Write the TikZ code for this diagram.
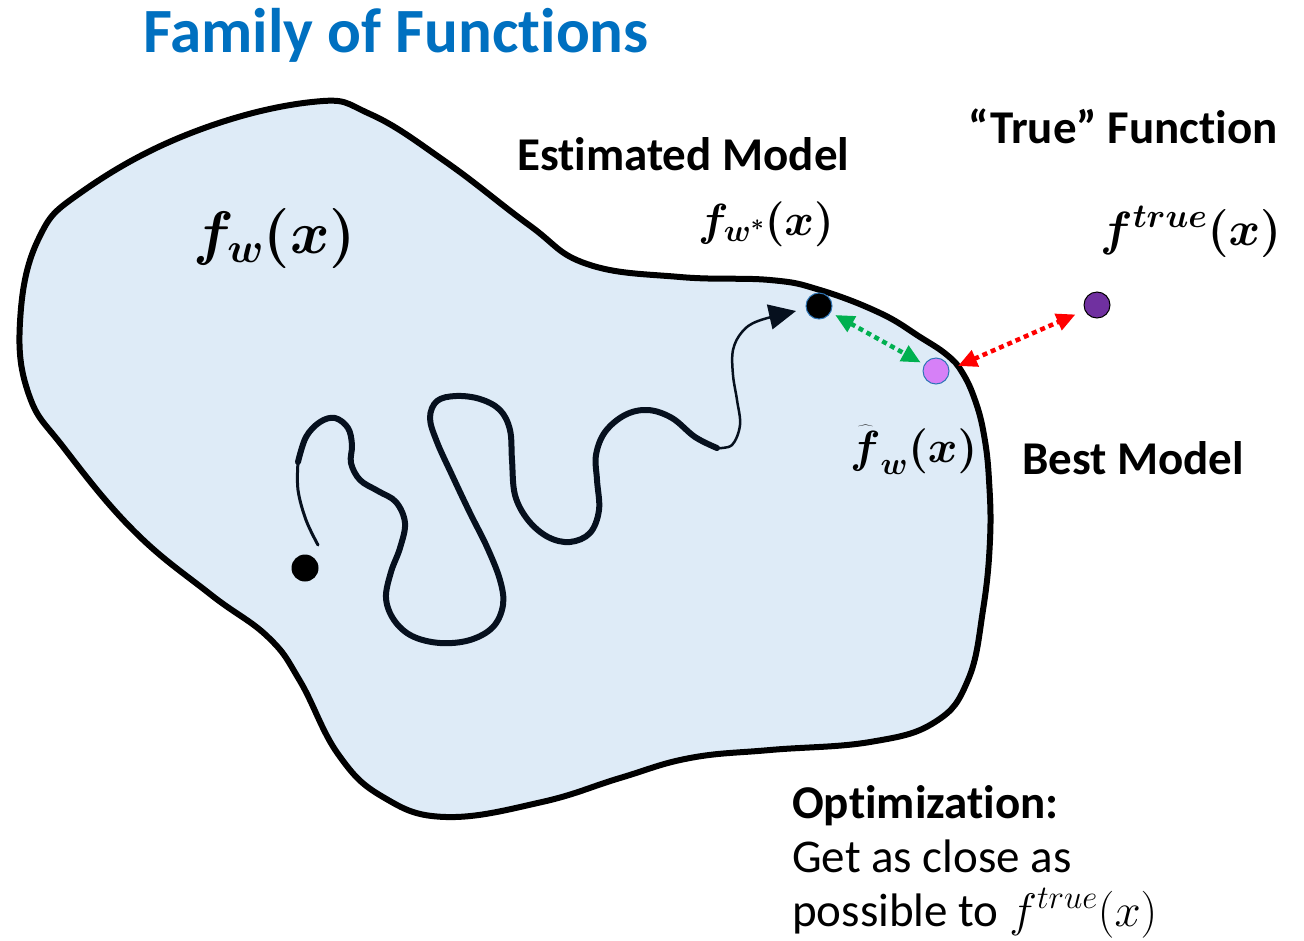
\RequirePackage{fix-cm}
\documentclass[tikz,border=0pt]{standalone}
\usepackage{fontspec}
\setmainfont{Carlito}[Ligatures=NoCommon]
\usepackage{bm}
\usetikzlibrary{arrows.meta}
\definecolor{titleblue}{RGB}{0,112,192}
\definecolor{setfill}{RGB}{222,235,247}
\definecolor{bestviolet}{RGB}{214,128,247}
\definecolor{truepurple}{RGB}{112,48,160}
\definecolor{ringblue}{RGB}{46,117,182}
\definecolor{distgreen}{RGB}{0,176,80}
\definecolor{pathink}{RGB}{6,16,30}

\begin{document}
\begin{tikzpicture}[x=1pt, y=-1pt, >={Triangle[length=19pt,width=17pt]},
  every node/.style={inner sep=0pt},
  lbl/.style={font=\fontsize{47}{56}\selectfont, anchor=base west},
  dot/.style={circle, minimum size=26pt, inner sep=0pt, draw, line width=1pt},
  gap/.style={<->, line width=4.5pt, dash pattern=on 5pt off 4pt},
  walk/.style={pathink, line cap=round, line join=round}]

  \useasboundingbox (0,0) rectangle (1304,940);

  % ================= the family of functions (blob) =================
  \draw[line width=6pt, fill=setfill] plot[smooth cycle, tension=0.7] coordinates {
    (312,102) (370,114) (446,162) (529,225) (587,264) (680,277) (770,280)
    (820,290) (880,313) (920,337) (947,355) (962,372) (975,400) (984,435)
    (989,480) (990,540) (983,610) (968,680) (935,722) (870,742) (770,750)
    (690,758) (620,778) (542,802) (446,817) (383,797) (338,754) (300,681)
    (268,637) (210,594) (134,531) (64,448) (29,395) (20,322) (38,240)
    (83,191) (191,133)};

  \node[font=\fontsize{63}{70}\selectfont\bfseries, text=titleblue, anchor=base west] (title) at (143,52) {Family of Functions};
  \node[anchor=base west, font=\fontsize{60}{66}\selectfont] (lblfw) at (193,253) {$\bm{f_w(x)}$};

  % ================= optimisation path =================
  \draw[walk, line width=3pt] plot[smooth, tension=0.6] coordinates {
    (318,545) (306,520) (298,490) (298,462)};
  \draw[walk, line width=6pt] plot[smooth, tension=0.6] coordinates {
    (298,462) (306,437) (320,422) (335,418) (348,428) (352,445) (351,463)
    (360,480) (378,491) (396,502) (405,523) (400,548) (391,572) (386,598)
    (394,620) (412,636) (440,643) (470,640) (493,627) (503,605) (500,580)
    (487,547) (470,513) (452,475) (437,442) (430,418) (437,401) (456,396)
    (480,399) (500,410) (510,430) (512,460) (515,495) (528,520) (548,537)
    (570,542) (590,533) (599,510) (597,480) (596,455) (605,432) (625,415)
    (648,410) (672,418) (695,437) (717,448)};
  \draw[walk, line width=2.5pt, -{Triangle[length=27pt,width=25pt]}] plot[smooth, tension=0.6] coordinates {
    (717,448) (732,445) (740,425) (737,400) (733,375) (733,350) (742,332)
    (758,321) (796,311)};

  % ================= points =================
  \node[dot, fill=black, draw=none, minimum size=27pt] (wstart) at (305,568) {};
  \node[dot, fill=black, draw=ringblue] (fstar) at (819,306) {};
  \node[dot, fill=bestviolet, draw=ringblue] (fhat) at (936,371) {};
  \node[dot, fill=truepurple, draw=black] (ftrue) at (1097,305) {};
  \coordinate (rim) at (958,366);

  % ================= distances =================
  \draw[gap, distgreen, shorten <=5pt, shorten >=4pt] (fstar) -- (fhat);
  \draw[gap, red, shorten >=10pt] (rim) -- (ftrue);

  % ================= labels =================
  \node[lbl, font=\fontsize{47}{56}\selectfont\bfseries] (lblest) at (517,170) {Estimated Model};
  \node[anchor=base west, font=\fontsize{45}{50}\selectfont] (lblfstar) at (698,235) {$\bm{f_{w^*}(x)}$};
  \node[lbl, font=\fontsize{47}{56}\selectfont\bfseries] (lbltrue) at (968,143) {“True” Function};
  \node[anchor=base west, font=\fontsize{48}{54}\selectfont] (lblftrue) at (1100,245) {$\bm{f^{true}(x)}$};
  \node[anchor=base west, font=\fontsize{45}{50}\selectfont] (lblfhat) at (850,462) {$\widehat{\bm{f}\vphantom{\big(}}_{\bm{w}}\bm{(x)}$};
  \node[lbl, font=\fontsize{47}{56}\selectfont\bfseries] (lblbest) at (1022,474) {Best Model};

  \node[lbl, font=\fontsize{47}{56}\selectfont\bfseries] (lblopt) at (792,818) {Optimization:};
  \node[lbl] (lblget) at (792,872) {Get as close as};
  \node[lbl] (lblposs) at (792,926) {possible to $f^{true}(x)$};

\end{tikzpicture}
\end{document}
